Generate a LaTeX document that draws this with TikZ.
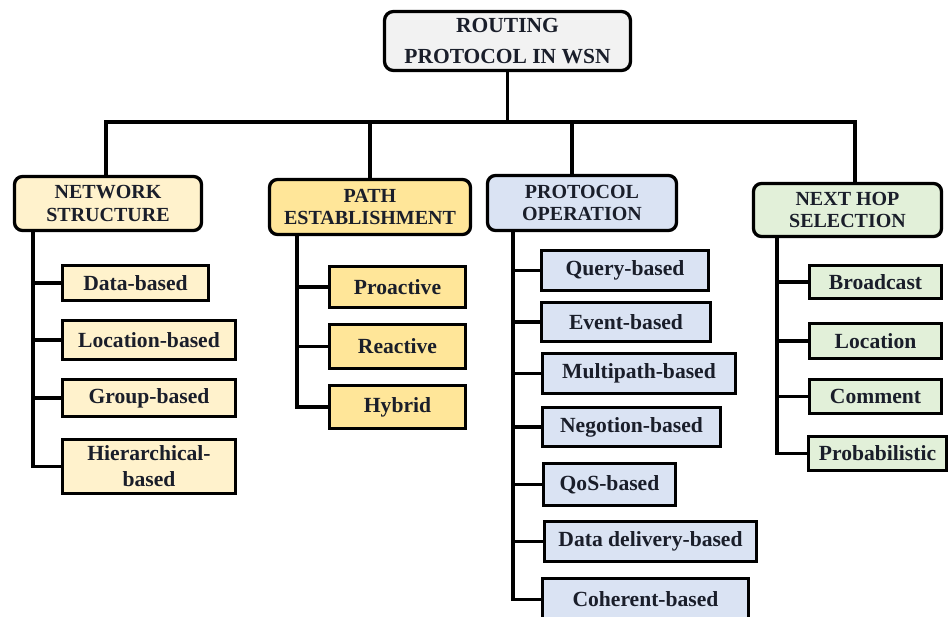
\documentclass[tikz,border=0pt]{standalone}
\usepackage{fontspec}
\setmainfont{Liberation Serif}
\definecolor{rootfill}{HTML}{F2F2F2}
\definecolor{nsfill}{HTML}{FFF2CC}
\definecolor{pefill}{HTML}{FFE699}
\definecolor{pofill}{HTML}{DAE3F3}
\definecolor{nhfill}{HTML}{E2F0D9}
\definecolor{txt}{HTML}{1A1E2A}
\tikzset{
  base/.style={draw=black, line width=3.3pt, inner sep=0pt, align=center, text=txt},
  rootbox/.style={base, rounded corners=9pt, fill=rootfill, font=\fontsize{21.5}{31}\selectfont\bfseries},
  headbox/.style={base, rounded corners=8pt, font=\fontsize{20}{22.5}\selectfont\bfseries},
  kidbox/.style={base, font=\fontsize{21.6}{26}\selectfont\bfseries},
  conn/.style={draw=black, line width=3.3pt, line cap=rect}
}
\begin{document}
\begin{tikzpicture}[x=1pt,y=-1pt]
\useasboundingbox (0,0) rectangle (951,617);
\clip (0,0) rectangle (951,617);
% root
\node[rootbox, minimum width=246pt, minimum height=59pt] (root) at (507.5,41) {ROUTING\\PROTOCOL IN WSN};
% headers
\node[headbox, fill=nsfill, minimum width=187pt, minimum height=54pt] (ns) at (108,203.5) {NETWORK\\STRUCTURE};
\node[headbox, fill=pefill, minimum width=201pt, minimum height=55pt] (pe) at (370,207) {PATH\\ESTABLISHMENT};
\node[headbox, fill=pofill, minimum width=189pt, minimum height=55pt] (po) at (582,203) {PROTOCOL\\OPERATION};
\node[headbox, fill=nhfill, minimum width=188pt, minimum height=53pt] (nh) at (847.5,210) {NEXT HOP\\SELECTION};
% network structure kids
\node[kidbox, fill=nsfill, minimum width=146pt, minimum height=35pt] (d1) at (135.5,283) {Data-based};
\node[kidbox, fill=nsfill, minimum width=173pt, minimum height=39pt] (d2) at (149,340) {Location-based};
\node[kidbox, fill=nsfill, minimum width=173pt, minimum height=37pt] (d3) at (149,398) {Group-based};
\node[kidbox, fill=nsfill, minimum width=173pt, minimum height=54pt] (d4) at (149,466.5) {Hierarchical-\\based};
% path establishment kids
\node[kidbox, fill=pefill, minimum width=136pt, minimum height=41pt] (p1) at (397.5,287) {Proactive};
\node[kidbox, fill=pefill, minimum width=136pt, minimum height=44pt] (p2) at (397.5,346.5) {Reactive};
\node[kidbox, fill=pefill, minimum width=136pt, minimum height=43pt] (p3) at (397.5,407) {Hybrid};
% protocol operation kids
\node[kidbox, fill=pofill, minimum width=167pt, minimum height=40pt] (o1) at (625,270.5) {Query-based};
\node[kidbox, fill=pofill, minimum width=169pt, minimum height=39pt] (o2) at (626,322) {Event-based};
\node[kidbox, fill=pofill, minimum width=193pt, minimum height=40pt] (o3) at (639,373.5) {Multipath-based};
\node[kidbox, fill=pofill, minimum width=178pt, minimum height=39pt] (o4) at (631.5,427) {Negotion-based};
\node[kidbox, fill=pofill, minimum width=132pt, minimum height=42pt] (o5) at (609.5,484.5) {QoS-based};
\node[kidbox, fill=pofill, minimum width=212pt, minimum height=40pt] (o6) at (650.5,541.5) {Data delivery-based};
\node[kidbox, fill=pofill, minimum width=206pt, minimum height=42pt] (o7) at (645.5,599.5) {Coherent-based};
% next hop kids
\node[kidbox, fill=nhfill, minimum width=132pt, minimum height=33pt] (n1) at (875.5,282) {Broadcast};
\node[kidbox, fill=nhfill, minimum width=132pt, minimum height=35pt] (n2) at (875.5,341) {Location};
\node[kidbox, fill=nhfill, minimum width=132pt, minimum height=34pt] (n3) at (875.5,396.5) {Comment};
\node[kidbox, fill=nhfill, minimum width=138pt, minimum height=34pt] (n4) at (877.5,453.5) {Probabilistic};
% coordinates
\coordinate (bar) at (0,122);
\coordinate (s1) at (106,0);
\coordinate (s2) at (370,0);
\coordinate (s3) at (572,0);
\coordinate (s4) at (855,0);
\coordinate (t1) at (33,0);
\coordinate (t2) at (297,0);
\coordinate (t3) at (513,0);
\coordinate (t4) at (777,0);
% top connectors
\draw[conn] (root.south) -- (root.south |- bar);
\draw[conn] (ns.north -| s1) -- (s1 |- bar) -- (s4 |- bar) -- (nh.north -| s4);
\draw[conn] (pe.north -| s2) -- (s2 |- bar);
\draw[conn] (po.north -| s3) -- (s3 |- bar);
% trunks
\draw[conn] (ns.south -| t1) |- (d4.west);
\draw[conn] (pe.south -| t2) |- (p3.west);
\draw[conn] (po.south -| t3) |- (o7.west);
\draw[conn] (nh.south -| t4) |- (n4.west);
% branches
\foreach \k in {d1,d2,d3} \draw[conn] (\k.west -| t1) -- (\k.west);
\foreach \k in {p1,p2} \draw[conn] (\k.west -| t2) -- (\k.west);
\foreach \k in {o1,o2,o3,o4,o5,o6} \draw[conn] (\k.west -| t3) -- (\k.west);
\foreach \k in {n1,n2,n3} \draw[conn] (\k.west -| t4) -- (\k.west);
\end{tikzpicture}
\end{document}
